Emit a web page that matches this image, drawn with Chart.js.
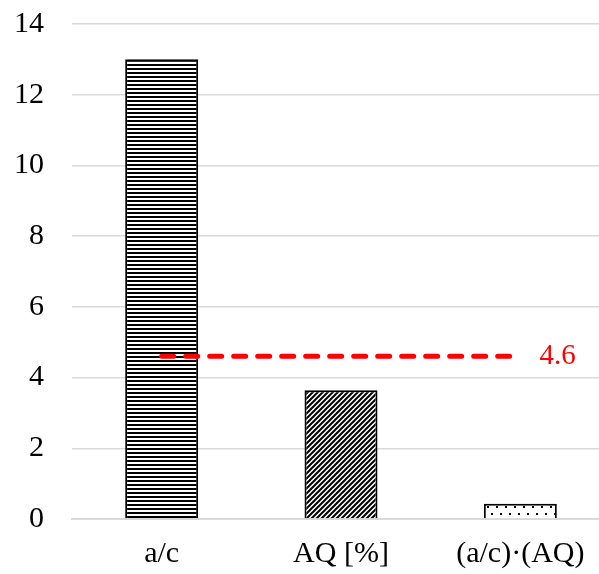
<!DOCTYPE html>
<html>
<head>
<meta charset="utf-8">
<script src="https://cdn.jsdelivr.net/npm/chart.js@4"></script>
<style>
  html, body { margin: 0; padding: 0; background: #fff; overflow: hidden; }
  #wrap { width: 599px; height: 574px; overflow: hidden; }
  canvas { display: block; }
</style>
</head>
<body>
<div id="wrap"><canvas id="chart" width="610" height="574"></canvas></div>
<script>
// Categories and bar values
const categories = ['a/c', 'AQ [%]', '(a/c)\u00b7(AQ)'];
const barValues = [13.0, 3.64, 0.43];
// Reference level drawn as a red dashed line, from the first bar towards the last
const refLevel = 4.6;
const refSpan = [0, 1.94];   // category positions where the dashed line starts and ends
const yTicks = [0, 2, 4, 6, 8, 10, 12, 14];

const FONT = "'Liberation Serif', 'Times New Roman', serif";

// Fill patterns for the three bars
function makePattern(kind) {
  const c = document.createElement('canvas');
  const g = c.getContext('2d');
  if (kind === 'hstripe') {
    c.width = 4; c.height = 4;
    g.fillStyle = '#fff'; g.fillRect(0, 0, 4, 4);
    g.fillStyle = '#000'; g.fillRect(0, 0, 4, 2);
  } else if (kind === 'diag') {
    c.width = 5; c.height = 5;
    g.fillStyle = '#fff'; g.fillRect(0, 0, 5, 5);
    g.strokeStyle = '#000'; g.lineWidth = 2;
    g.beginPath();
    g.moveTo(-1, 6); g.lineTo(6, -1);
    g.moveTo(-6, 6); g.lineTo(1, -1);
    g.moveTo(4, 6); g.lineTo(11, -1);
    g.stroke();
  } else {
    c.width = 9; c.height = 14;
    g.fillStyle = '#fff'; g.fillRect(0, 0, 9, 14);
    g.fillStyle = '#000';
    g.fillRect(1, 2, 2, 2);
    g.fillRect(5, 9, 2, 2);
  }
  return g.createPattern(c, 'repeat');
}

const fills = [makePattern('hstripe'), makePattern('diag'), makePattern('dots')];

// Writes the reference value to the right of the dashed line
const refLabelPlugin = {
  id: 'refLabel',
  afterDatasetsDraw(chart) {
    const meta = chart.getDatasetMeta(1);
    const last = meta.data[meta.data.length - 1];
    if (!last) return;
    const ctx = chart.ctx;
    ctx.save();
    ctx.fillStyle = '#ff0000';
    ctx.font = '29px ' + FONT;
    ctx.textAlign = 'left';
    ctx.textBaseline = 'middle';
    ctx.fillText(String(refLevel), last.x + 30, last.y);
    ctx.restore();
  }
};

new Chart(document.getElementById('chart'), {
  type: 'bar',
  data: {
    labels: categories,
    datasets: [
      {
        type: 'bar',
        data: barValues,
        backgroundColor: fills,
        borderColor: '#000',
        borderWidth: 2,
        grouped: false,
        categoryPercentage: 1,
        barPercentage: 0.407,
        xAxisID: 'x',
        order: 2
      },
      {
        type: 'line',
        data: refSpan.map(x => ({ x: x, y: refLevel })),
        borderColor: '#ff0000',
        borderWidth: 5,
        borderDash: [12, 12],
        borderCapStyle: 'round',
        pointRadius: 0,
        fill: false,
        xAxisID: 'xRef',
        order: 1
      }
    ]
  },
  options: {
    responsive: false,
    devicePixelRatio: 1,
    animation: false,
    events: [],
    layout: { padding: { top: 24, left: 0, right: 0, bottom: 0 } },
    plugins: { legend: { display: false }, tooltip: { enabled: false } },
    scales: {
      x: {
        type: 'category',
        grid: { display: false, drawTicks: false },
        border: { display: true, color: '#d9d9d9', width: 2 },
        ticks: { color: '#000', font: { family: FONT, size: 30 }, padding: 17, maxRotation: 0, autoSkip: false },
        afterFit(scale) { scale.height = 55; }
      },
      xRef: {
        type: 'linear',
        display: false,
        offset: false,
        min: -0.5,
        max: 2.5
      },
      y: {
        min: 0,
        max: 14,
        afterBuildTicks(scale) { scale.ticks = yTicks.map(v => ({ value: v })); },
        grid: { color: '#d9d9d9', lineWidth: 1.5, drawTicks: false },
        border: { display: false },
        ticks: { color: '#000', font: { family: FONT, size: 30 }, padding: 28 },
        afterFit(scale) {
          scale.width = 72;
          // the label gap should not push the plot area down
          scale.paddingTop = 18;
          scale.paddingBottom = 18;
        }
      }
    }
  },
  plugins: [refLabelPlugin]
});
</script>
</body>
</html>
